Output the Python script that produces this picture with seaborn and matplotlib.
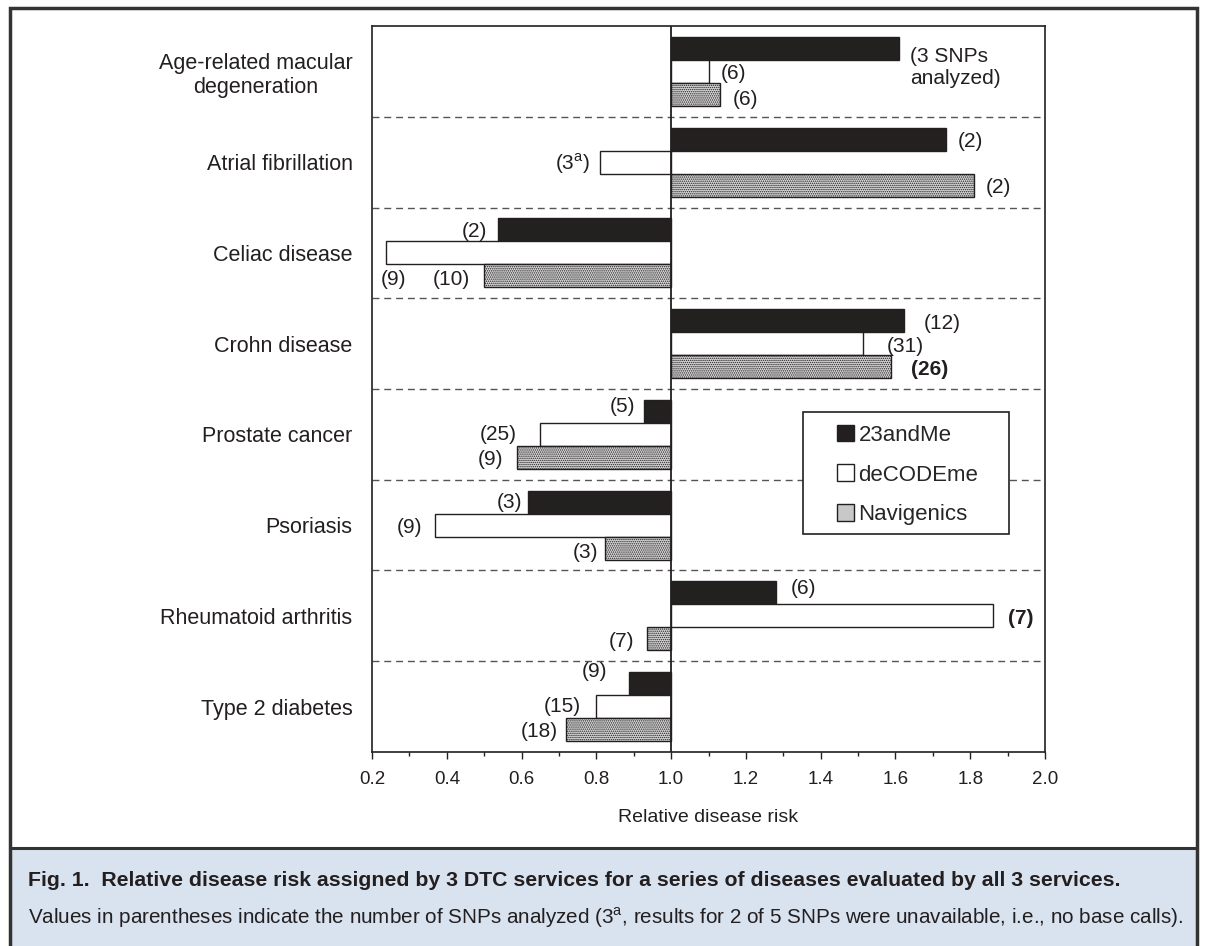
import matplotlib
matplotlib.use("Agg")
import matplotlib.pyplot as plt
from matplotlib import font_manager
from matplotlib.patches import Patch, Rectangle
from matplotlib.ticker import FuncFormatter, MultipleLocator
import pandas as pd
import seaborn as sns

# data
diseases = ["Age-related macular\ndegeneration", "Atrial fibrillation", "Celiac disease",
            "Crohn disease", "Prostate cancer", "Psoriasis", "Rheumatoid arthritis",
            "Type 2 diabetes"]
services = ["23andMe", "deCODEme", "Navigenics"]
risk_23andme = [1.61, 1.735, 0.537, 1.623, 0.928, 0.618, 1.28, 0.888]
risk_decodeme = [1.10, 0.81, 0.238, 1.513, 0.649, 0.368, 1.86, 0.799]
risk_navigenics = [1.13, 1.81, 0.499, 1.587, 0.587, 0.824, 0.936, 0.718]
snps_23andme = ["(3 SNPs\nanalyzed)", "(2)", "(2)", "(12)", "(5)", "(3)", "(6)", "(9)"]
snps_decodeme = ["(6)", r"(3$^\mathregular{a}$)", "(9)", "(31)", "(25)", "(9)", "(7)", "(15)"]
snps_navigenics = ["(6)", "(2)", "(10)", "(26)", "(9)", "(3)", "(7)", "(18)"]

rows = []
for svc, vals, labs in zip(services, [risk_23andme, risk_decodeme, risk_navigenics],
                           [snps_23andme, snps_decodeme, snps_navigenics]):
    for d, v, l in zip(diseases, vals, labs):
        rows.append({"Disease": d, "Service": svc, "Risk": v, "SNPs": l})
df = pd.DataFrame(rows)
# bars grow from a baseline of 1.0
df["Dev"] = df["Risk"] - 1.0

sns.set_theme(style="white")
plt.rcParams["font.family"] = ["Liberation Sans", "DejaVu Sans"]
plt.rcParams["mathtext.fontset"] = "custom"
plt.rcParams["mathtext.rm"] = "Liberation Sans"
plt.rcParams["hatch.linewidth"] = 0.7
plt.rcParams["hatch.color"] = "#707070"

ink = "#231f20"
fig = plt.figure(figsize=(12.06, 9.46), dpi=100)
ax = fig.add_axes([0.3085, 0.2051, 0.558, 0.7674])

palette = {"23andMe": ink, "deCODEme": "white", "Navigenics": "#d8d8d8"}
sns.barplot(data=df, y="Disease", x="Dev", hue="Service", order=diseases,
            hue_order=services, palette=palette, orient="h", width=0.76,
            edgecolor=ink, linewidth=1.0, legend=False, ax=ax)

for p in ax.containers[2]:
    p.set_hatch("........")

ax.set_xlim(-0.8, 1.0)
ax.set_ylim(len(diseases) - 0.5, -0.5)
ax.xaxis.set_major_locator(MultipleLocator(0.2))
ax.xaxis.set_minor_locator(MultipleLocator(0.1))
ax.xaxis.set_major_formatter(FuncFormatter(lambda v, _: f"{v + 1:.1f}"))
ax.tick_params(axis="x", which="major", bottom=True, direction="out", length=5,
               width=1, color=ink, labelsize=13.5, pad=9, labelcolor=ink)
ax.tick_params(axis="x", which="minor", bottom=True, direction="out", length=3,
               width=1, color=ink)
ax.tick_params(axis="y", length=0, labelsize=15.5, pad=14, labelcolor=ink)
for t in ax.get_yticklabels():
    t.set_multialignment("center")
ax.set_ylabel("")
ax.set_xlabel("Relative disease risk", fontsize=14, color=ink, labelpad=15)
for s in ax.spines.values():
    s.set_color(ink)
    s.set_linewidth(1.2)

ax.axvline(0, color=ink, lw=1.3, zorder=3)
for k in range(len(diseases) - 1):
    ax.axhline(k + 0.5, color="#555555", lw=1, ls=(0, (5, 3.5)), zorder=0)

# SNP count labels: (gap from bar end, drop below bar centre) in pixels
tweaks = {
    (0, 0): (11, 19), (0, 2): (13, 5),
    (1, 1): (10, 2),
    (2, 0): (11, 2), (2, 1): (-20, 27), (2, 2): (14, 4),
    (3, 0): (20, 3), (3, 1): (24, 3), (3, 2): (20, 3),
    (4, 0): (9, -5), (4, 1): (23, 0), (4, 2): (13, 2),
    (5, 0): (6, 0), (5, 1): (13, 2), (5, 2): (7, 4),
    (6, 0): (15, -4), (6, 1): (15, 3), (6, 2): (13, 3),
    (7, 0): (22, -12), (7, 1): (15, 0), (7, 2): (8, 2),
}
for j, (cont, labs) in enumerate(zip(ax.containers, [snps_23andme, snps_decodeme, snps_navigenics])):
    for i, (p, lab) in enumerate(zip(cont, labs)):
        gap, dy = tweaks.get((i, j), (12, 2))
        end = p.get_x() + p.get_width()
        yc = p.get_y() + p.get_height() / 2
        sign = 1 if p.get_width() >= 0 else -1
        weight = "bold" if (i, j) in ((3, 2), (6, 1)) else "normal"
        ax.annotate(lab, xy=(end, yc), xytext=(sign * gap, -dy),
                    textcoords="offset pixels", ha="left" if sign > 0 else "right",
                    va="center", fontsize=15, color=ink, fontweight=weight,
                    multialignment="left", zorder=4)

# legend with its own square white box
handles = [Patch(facecolor=palette[s] if s != "Navigenics" else "#c8c8c8",
                 edgecolor=ink, linewidth=1, label=s) for s in services]
leg = ax.legend(handles=handles, loc="upper left", bbox_to_anchor=(0.691, 0.451),
                frameon=False, fontsize=16, handlelength=0.77, handleheight=0.77,
                handletextpad=0.2, labelspacing=0.85, borderpad=0, borderaxespad=0)
leg.set_zorder(6)
ax.add_patch(Rectangle((0.640, 0.300), 0.307, 0.168, transform=ax.transAxes,
                       facecolor="white", edgecolor=ink, lw=1.2, zorder=5))

# caption panel and outer frame
fig.patches.append(Rectangle((0.0083, 0.0), 0.9842, 0.1036, transform=fig.transFigure,
                             facecolor="#d9e2ef", edgecolor="none", zorder=0))
fig.add_artist(plt.Line2D([0.0083, 0.9925], [0.1036, 0.1036], color="#333333", lw=2.2))
fig.add_artist(Rectangle((0.0083, -0.01), 0.9842, 1.0015, transform=fig.transFigure,
                         fill=False, edgecolor="#333333", lw=2.5))

names = {f.name for f in font_manager.fontManager.ttflist}
if "Liberation Sans Narrow" in names:
    cap_font, sz1, sz2 = ["Liberation Sans Narrow", "Liberation Sans"], 17.5, 16.5
else:
    cap_font, sz1, sz2 = ["Liberation Sans", "DejaVu Sans"], 15.3, 14.9
fig.text(0.0232, 0.0690, "Fig. 1.  Relative disease risk assigned by 3 DTC services for a series "
         "of diseases evaluated by all 3 services.", family=cap_font, fontsize=sz1,
         fontweight="bold", color=ink, va="center")
fig.text(0.0232, 0.0295, r"Values in parentheses indicate the number of SNPs analyzed "
         r"(3$^\mathregular{a}$, results for 2 of 5 SNPs were unavailable, i.e., no base calls).",
         family=cap_font, fontsize=sz2, color=ink, va="center")

fig.savefig("out.png", dpi=100, facecolor="white")
